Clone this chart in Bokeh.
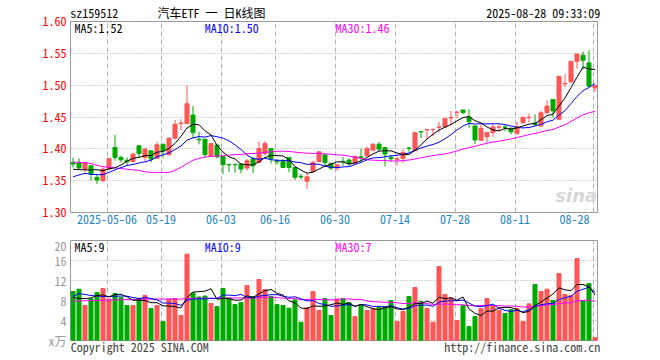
from bokeh.plotting import figure
from bokeh.layouts import column
from bokeh.models import (Range1d, FixedTicker, CustomJSTickFormatter, Label, LinearAxis,
                          ColumnDataSource, NumeralTickFormatter)
from bokeh.embed import file_html
from bokeh.resources import INLINE

# ---------------- data ----------------
tick_days = [6, 15, 25, 34, 44, 54, 64, 74, 87]
tick_labels = ["2025-05-06", "05-19", "06-03", "06-16", "06-30", "07-14", "07-28", "08-11", "08-28"]

header_texts = ["sz159512", "汽车ETF 一 日K线图", "2025-08-28 09:33:09"]
footer_texts = ["Copyright 2025 SINA.COM", "http://finance.sina.com.cn"]
price_ma_texts = ["MA5:1.52", "MA10:1.50", "MA30:1.46"]
vol_ma_texts = ["MA5:9", "MA10:9", "MA30:7"]
vol_unit_text = "x万"

opens = [1.3786, 1.3786, 1.3682, 1.3734, 1.3552, 1.3500, 1.3682, 1.4021, 1.3865, 1.3820,
         1.3802, 1.4047, 1.3865, 1.3969, 1.3854, 1.4073, 1.3906, 1.4167, 1.4396, 1.4396,
         1.4531, 1.4151, 1.4151, 1.3890, 1.4060, 1.3880, 1.3755, 1.3755, 1.3760, 1.3698,
         1.3839, 1.3786, 1.3927, 1.4005, 1.3812, 1.3802, 1.3865, 1.3708, 1.3568, 1.3490,
         1.3646, 1.3797, 1.3906, 1.3771, 1.3698, 1.3802, 1.3823, 1.3776, 1.3875, 1.3890,
         1.3980, 1.4073, 1.4021, 1.3865, 1.3833, 1.3850, 1.4013, 1.3970, 1.4271, 1.4297,
         1.4302, 1.4339, 1.4344, 1.4484, 1.4573, 1.4610, 1.4500, 1.4360, 1.4135, 1.4188,
         1.4255, 1.4340, 1.4344, 1.4323, 1.4240, 1.4411, 1.4490, 1.4406, 1.4360, 1.4568,
         1.4776, 1.4464, 1.5021, 1.5052, 1.5375, 1.5470, 1.5350, 1.4958]

closes = [1.3760, 1.3698, 1.3786, 1.3604, 1.3510, 1.3682, 1.3849, 1.3865, 1.3828, 1.3797,
          1.3917, 1.3927, 1.3995, 1.3839, 1.4063, 1.3969, 1.4167, 1.4386, 1.4406, 1.4708,
          1.4255, 1.4141, 1.3906, 1.4083, 1.3875, 1.3750, 1.3750, 1.3750, 1.3682, 1.3813,
          1.3734, 1.4005, 1.4083, 1.3849, 1.3797, 1.3708, 1.3708, 1.3552, 1.3558, 1.3562,
          1.3786, 1.3953, 1.3786, 1.3698, 1.3750, 1.3797, 1.3771, 1.3880, 1.3865, 1.4005,
          1.4073, 1.3995, 1.3917, 1.3844, 1.3844, 1.3943, 1.4005, 1.4255, 1.4266, 1.4302,
          1.4307, 1.4344, 1.4474, 1.4490, 1.4578, 1.4568, 1.4427, 1.4140, 1.4323, 1.4255,
          1.4344, 1.4344, 1.4340, 1.4266, 1.4350, 1.4490, 1.4495, 1.4385, 1.4568, 1.4672,
          1.4594, 1.5141, 1.5026, 1.5375, 1.5490, 1.5390, 1.4984, 1.4995]

highs = [1.3865, 1.3850, 1.3786, 1.3734, 1.3594, 1.3708, 1.3849, 1.4219, 1.3890, 1.3865,
         1.3943, 1.4057, 1.4020, 1.3969, 1.4110, 1.4073, 1.4177, 1.4453, 1.4464, 1.5000,
         1.4670, 1.4270, 1.4151, 1.4083, 1.4080, 1.3890, 1.3765, 1.3770, 1.3780, 1.3839,
         1.3875, 1.4115, 1.4125, 1.4005, 1.3839, 1.3839, 1.3865, 1.3708, 1.3604, 1.3615,
         1.3813, 1.3953, 1.3906, 1.3786, 1.3750, 1.3875, 1.3850, 1.3890, 1.4005, 1.4036,
         1.4083, 1.4110, 1.4031, 1.3906, 1.3875, 1.3995, 1.4031, 1.4255, 1.4281, 1.4302,
         1.4313, 1.4422, 1.4474, 1.4594, 1.4594, 1.4610, 1.4620, 1.4360, 1.4385, 1.4255,
         1.4385, 1.4385, 1.4370, 1.4333, 1.4420, 1.4516, 1.4557, 1.4542, 1.4594, 1.4760,
         1.4776, 1.5141, 1.5177, 1.5375, 1.5490, 1.5530, 1.5547, 1.5005]

lows = [1.3708, 1.3682, 1.3630, 1.3500, 1.3448, 1.3474, 1.3682, 1.3813, 1.3786, 1.3734,
        1.3786, 1.3865, 1.3813, 1.3786, 1.3839, 1.3854, 1.3906, 1.4151, 1.4292, 1.4386,
        1.4167, 1.4070, 1.3865, 1.3875, 1.3850, 1.3604, 1.3635, 1.3625, 1.3615, 1.3656,
        1.3620, 1.3776, 1.3891, 1.3770, 1.3755, 1.3698, 1.3630, 1.3510, 1.3521, 1.3370,
        1.3630, 1.3786, 1.3720, 1.3667, 1.3656, 1.3734, 1.3734, 1.3760, 1.3797, 1.3875,
        1.3960, 1.3969, 1.3724, 1.3797, 1.3734, 1.3776, 1.3953, 1.3970, 1.4167, 1.4151,
        1.4198, 1.4255, 1.4323, 1.4370, 1.4480, 1.4542, 1.4323, 1.4073, 1.4125, 1.4100,
        1.4188, 1.4281, 1.4281, 1.4229, 1.4219, 1.4385, 1.4422, 1.4359, 1.4344, 1.4542,
        1.4490, 1.4464, 1.4969, 1.5026, 1.5260, 1.5245, 1.4984, 1.4896]

ma5 = [1.3680, 1.3672, 1.3670, 1.3668, 1.3672, 1.3656, 1.3686, 1.3702, 1.3747, 1.3804,
       1.3851, 1.3867, 1.3893, 1.3895, 1.3948, 1.3959, 1.4007, 1.4085, 1.4198, 1.4327,
       1.4384, 1.4379, 1.4283, 1.4219, 1.4052, 1.3951, 1.3873, 1.3842, 1.3761, 1.3749,
       1.3746, 1.3797, 1.3863, 1.3897, 1.3894, 1.3888, 1.3829, 1.3723, 1.3665, 1.3618,
       1.3633, 1.3682, 1.3729, 1.3757, 1.3795, 1.3797, 1.3760, 1.3779, 1.3813, 1.3864,
       1.3919, 1.3964, 1.3971, 1.3967, 1.3935, 1.3909, 1.3911, 1.3978, 1.4063, 1.4154,
       1.4227, 1.4295, 1.4339, 1.4383, 1.4439, 1.4491, 1.4507, 1.4441, 1.4407, 1.4343,
       1.4298, 1.4281, 1.4321, 1.4310, 1.4329, 1.4358, 1.4388, 1.4397, 1.4458, 1.4522,
       1.4543, 1.4672, 1.4800, 1.4962, 1.5125, 1.5284, 1.5253, 1.5247]

ma10 = [1.3560, 1.3590, 1.3615, 1.3600, 1.3594, 1.3594, 1.3630, 1.3670, 1.3705, 1.3738,
        1.3754, 1.3777, 1.3797, 1.3821, 1.3876, 1.3905, 1.3937, 1.3989, 1.4047, 1.4138,
        1.4172, 1.4193, 1.4184, 1.4208, 1.4190, 1.4168, 1.4126, 1.4062, 1.3990, 1.3901,
        1.3848, 1.3835, 1.3853, 1.3829, 1.3821, 1.3817, 1.3813, 1.3793, 1.3781, 1.3756,
        1.3761, 1.3756, 1.3726, 1.3711, 1.3706, 1.3715, 1.3721, 1.3754, 1.3785, 1.3829,
        1.3858, 1.3862, 1.3875, 1.3890, 1.3899, 1.3914, 1.3937, 1.3975, 1.4015, 1.4044,
        1.4068, 1.4103, 1.4158, 1.4223, 1.4296, 1.4359, 1.4401, 1.4390, 1.4395, 1.4391,
        1.4394, 1.4394, 1.4381, 1.4359, 1.4336, 1.4328, 1.4335, 1.4359, 1.4384, 1.4425,
        1.4450, 1.4530, 1.4599, 1.4710, 1.4824, 1.4914, 1.4963, 1.5024]

ma30 = [1.3790, 1.3790, 1.3780, 1.3770, 1.3740, 1.3720, 1.3710, 1.3700, 1.3690, 1.3680,
        1.3670, 1.3660, 1.3640, 1.3630, 1.3630, 1.3630, 1.3630, 1.3660, 1.3710, 1.3770,
        1.3820, 1.3850, 1.3870, 1.3880, 1.3890, 1.3890, 1.3900, 1.3910, 1.3910, 1.3925,
        1.3925, 1.3935, 1.3945, 1.3953, 1.3962, 1.3963, 1.3959, 1.3948, 1.3939, 1.3931,
        1.3927, 1.3928, 1.3921, 1.3916, 1.3906, 1.3900, 1.3887, 1.3870, 1.3852, 1.3828,
        1.3822, 1.3817, 1.3818, 1.3810, 1.3809, 1.3815, 1.3824, 1.3841, 1.3860, 1.3876,
        1.3895, 1.3907, 1.3920, 1.3941, 1.3967, 1.3996, 1.4020, 1.4039, 1.4065, 1.4088,
        1.4107, 1.4120, 1.4138, 1.4157, 1.4177, 1.4200, 1.4224, 1.4241, 1.4265, 1.4287,
        1.4304, 1.4342, 1.4379, 1.4430, 1.4485, 1.4533, 1.4566, 1.4591]

volumes = [9.80, 10.27, 7.00, 8.33, 9.60, 10.40, 8.27, 9.40, 8.60, 7.00,
           7.00, 8.40, 9.00, 6.40, 7.00, 3.80, 8.33, 8.40, 5.00, 17.27,
           9.50, 8.70, 8.90, 7.40, 6.80, 10.40, 8.47, 7.20, 7.60, 11.00,
           8.80, 12.20, 10.20, 8.80, 7.20, 7.00, 6.47, 8.13, 3.67, 6.60,
           9.80, 6.00, 8.40, 5.00, 8.30, 8.40, 7.60, 4.80, 7.00, 6.00,
           6.40, 6.60, 6.80, 8.00, 3.80, 5.80, 8.80, 10.60, 7.80, 6.40,
           3.67, 14.80, 9.20, 8.53, 4.00, 7.00, 2.80, 4.80, 6.40, 8.40,
           7.00, 6.00, 5.40, 6.20, 6.40, 3.80, 7.33, 11.20, 9.80, 10.27,
           8.00, 13.40, 9.20, 9.00, 16.40, 8.00, 11.40, 0.60]

vol_ma5 = [8.60, 8.40, 8.40, 8.50, 9.00, 9.12, 8.72, 9.20, 9.25, 8.73,
           8.05, 8.08, 8.00, 7.56, 7.56, 6.92, 6.91, 6.79, 6.51, 8.56,
           9.70, 9.77, 9.87, 10.35, 8.26, 8.44, 8.39, 8.05, 8.09, 8.93,
           8.61, 9.36, 9.96, 10.20, 9.44, 9.08, 7.93, 7.52, 6.49, 6.37,
           6.93, 6.84, 6.89, 7.16, 7.50, 7.22, 7.54, 6.82, 7.22, 6.76,
           6.36, 6.16, 6.56, 6.76, 6.32, 6.20, 6.64, 7.40, 7.36, 7.88,
           7.45, 8.65, 8.37, 8.52, 8.04, 8.71, 6.31, 5.43, 5.00, 5.88,
           5.88, 6.52, 6.64, 6.60, 6.20, 5.56, 5.83, 6.99, 7.71, 8.48,
           9.32, 10.53, 10.13, 9.97, 11.20, 11.20, 10.80, 9.08]

vol_ma10 = [8.80, 9.40, 9.20, 9.00, 8.90, 8.80, 8.80, 8.85, 8.90, 8.87,
            8.59, 8.40, 8.60, 8.41, 8.15, 7.49, 7.49, 7.39, 7.03, 8.06,
            8.31, 8.34, 8.33, 8.43, 8.41, 9.07, 9.08, 8.96, 9.22, 8.60,
            8.53, 8.88, 9.01, 9.15, 9.19, 8.85, 8.65, 8.74, 8.35, 7.91,
            8.01, 7.39, 7.21, 6.83, 6.94, 7.08, 7.19, 6.86, 7.19, 7.13,
            6.79, 6.85, 6.69, 6.99, 6.54, 6.28, 6.40, 6.98, 7.06, 7.10,
            6.83, 7.65, 7.89, 7.94, 7.96, 8.08, 7.48, 6.90, 6.76, 6.96,
            7.29, 6.41, 6.03, 5.80, 6.04, 5.72, 6.17, 6.81, 7.15, 7.34,
            7.44, 8.18, 8.56, 8.84, 9.84, 10.26, 10.67, 9.61]

vol_ma30 = [7.90, 7.90, 7.95, 8.00, 8.00, 8.05, 8.10, 8.10, 8.15, 8.20,
            8.20, 8.25, 8.25, 8.30, 8.30, 8.30, 8.30, 8.30, 8.30, 8.40,
            8.40, 8.45, 8.45, 8.45, 8.45, 8.50, 8.50, 8.50, 8.50, 8.51,
            8.47, 8.54, 8.65, 8.66, 8.58, 8.47, 8.41, 8.37, 8.20, 8.19,
            8.28, 8.20, 8.18, 8.13, 8.18, 8.33, 8.31, 8.19, 8.25, 7.88,
            7.77, 7.70, 7.63, 7.65, 7.55, 7.40, 7.41, 7.53, 7.53, 7.38,
            7.21, 7.29, 7.26, 7.25, 7.15, 7.15, 7.02, 6.91, 7.00, 7.06,
            6.97, 6.97, 6.87, 6.91, 6.85, 6.69, 6.68, 6.90, 6.99, 7.13,
            7.19, 7.41, 7.49, 7.53, 7.95, 8.02, 8.11, 7.77]

price_ticks = [1.30, 1.35, 1.40, 1.45, 1.50, 1.55, 1.60]
vol_ticks = [0, 4, 8, 12, 16, 20]

# ---------------- styling ----------------
RED = "#ff5555"
GREEN = "#00a900"
FONT = "Noto Sans Mono CJK SC, Noto Sans Mono, DejaVu Sans Mono, monospace"
FS = "12px"
GRID_OFF = -0.33          # grid line sits a little left of the candle
LAST_LABEL_SHIFT = -3.1   # last date label pulled left to stay inside the panel
X0 = -0.4167
XR = Range1d(X0, X0 + 527 / 6.0)

# positions (in day units) where the header / footer strings are centred
header_pos = [3.55, 23.08, 78.37]
footer_pos = [11.12, 74.88]

n = len(closes)
idx = list(range(n))
colors = [RED if c >= o else GREEN for o, c in zip(opens, closes)]
src = ColumnDataSource(dict(
    x=idx, high=highs, low=lows,
    top=[max(o, c) for o, c in zip(opens, closes)],
    bottom=[min(o, c) for o, c in zip(opens, closes)],
    color=colors, vol=volumes,
    ma5=ma5, ma10=ma10, ma30=ma30,
    vma5=vol_ma5, vma10=vol_ma10, vma30=vol_ma30,
))

grid_pos = [d + GRID_OFF for d in tick_days]
label_pos = list(grid_pos)
label_pos[-1] = grid_pos[-1] + LAST_LABEL_SHIFT

LOOKUP = ("for (let k = 0; k < pos.length; k++) { if (Math.abs(pos[k] - tick) < 1e-6) "
          "return labels[k]; } return '';")


def plain_axis(ax):
    ax.axis_line_color = None
    ax.major_tick_line_color = None
    ax.minor_tick_line_color = None
    ax.major_tick_out = 0
    ax.major_tick_in = 0
    ax.minor_tick_out = 0
    ax.minor_tick_in = 0
    ax.major_label_text_font = FONT
    ax.major_label_text_font_size = FS


def text_axis(ax, pos, labels, color, standoff):
    plain_axis(ax)
    ax.ticker = FixedTicker(ticks=pos)
    ax.formatter = CustomJSTickFormatter(args=dict(pos=pos, labels=labels), code=LOOKUP)
    ax.major_label_text_color = color
    ax.major_label_standoff = standoff


def base_style(p):
    p.outline_line_color = "#999999"
    p.outline_line_width = 1
    p.background_fill_color = "white"
    p.border_fill_color = "white"
    for ax in p.axis:
        plain_axis(ax)
    p.xgrid.ticker = FixedTicker(ticks=grid_pos)
    p.xgrid.grid_line_color = "#b4b4b4"
    p.xgrid.grid_line_dash = "5 3"
    p.ygrid.grid_line_color = "#aaaaaa"
    p.ygrid.grid_line_dash = "1 2"


def lbl(p, x, y, text, color):
    p.add_layout(Label(x=x, y=y, text=text, text_align="left", text_baseline="middle",
                       text_font=FONT, text_font_size=FS, text_color=color))


# ---------------- price panel ----------------
p1 = figure(width=660, height=236, x_range=XR, y_range=Range1d(1.30, 1.60),
            output_backend="svg", toolbar_location=None,
            min_border_left=70, min_border_right=63, min_border_top=20, min_border_bottom=24)
base_style(p1)
p1.ygrid.ticker = FixedTicker(ticks=price_ticks[1:-1])
p1.yaxis.ticker = FixedTicker(ticks=price_ticks)
p1.yaxis.formatter = NumeralTickFormatter(format="0.00")
p1.yaxis.major_label_text_color = "#ff0000"
p1.yaxis.major_label_standoff = 4
text_axis(p1.xaxis[0], label_pos, tick_labels, "#1a84c8", 2)

head = LinearAxis()
text_axis(head, header_pos, header_texts, "#000000", 1)
p1.add_layout(head, "above")

p1.segment(x0="x", y0="low", x1="x", y1="high", line_color="color", line_width=1, source=src)
p1.vbar(x="x", top="top", bottom="bottom", width=0.67, fill_color="color",
        line_color="color", line_width=1, source=src)
p1.line("x", "ma30", line_color="#ff00ff", line_width=1, source=src)
p1.line("x", "ma10", line_color="#0000ff", line_width=1, source=src)
p1.line("x", "ma5", line_color="#000000", line_width=1, source=src)

p1.add_layout(Label(x=87.35, y=1.3095, text="sina", text_align="right", text_baseline="bottom",
                    text_font="DejaVu Sans", text_font_style="bold italic",
                    text_font_size="18px", text_color="#d6d6d6"))

lbl(p1, 0.25, 1.5902, price_ma_texts[0], "#000000")
lbl(p1, 21.97, 1.5902, price_ma_texts[1], "#0000ff")
lbl(p1, 43.75, 1.5902, price_ma_texts[2], "#ff00ff")

# ---------------- volume panel ----------------
p2 = figure(width=660, height=124, x_range=XR, y_range=Range1d(0, 20),
            output_backend="svg", toolbar_location=None,
            min_border_left=70, min_border_right=63, min_border_top=4, min_border_bottom=20)
base_style(p2)
p2.ygrid.ticker = FixedTicker(ticks=vol_ticks[1:-1])
p2.yaxis.ticker = FixedTicker(ticks=vol_ticks)
p2.yaxis.major_label_overrides = {0: vol_unit_text}
p2.yaxis.major_label_text_color = "#999999"
p2.yaxis.major_label_standoff = 4
text_axis(p2.xaxis[0], footer_pos, footer_texts, "#444444", -3)

p2.vbar(x="x", top="vol", bottom=0, width=0.67, fill_color="color",
        line_color="color", line_width=1, source=src)
p2.line("x", "vma30", line_color="#ff00ff", line_width=1, source=src)
p2.line("x", "vma10", line_color="#0000ff", line_width=1, source=src)
p2.line("x", "vma5", line_color="#000000", line_width=1, source=src)

lbl(p2, 0.25, 18.74, vol_ma_texts[0], "#000000")
lbl(p2, 21.97, 18.74, vol_ma_texts[1], "#0000ff")
lbl(p2, 43.75, 18.74, vol_ma_texts[2], "#ff00ff")

layout = column(p1, p2, spacing=0)
open("out.html", "w").write(file_html(layout, INLINE))
